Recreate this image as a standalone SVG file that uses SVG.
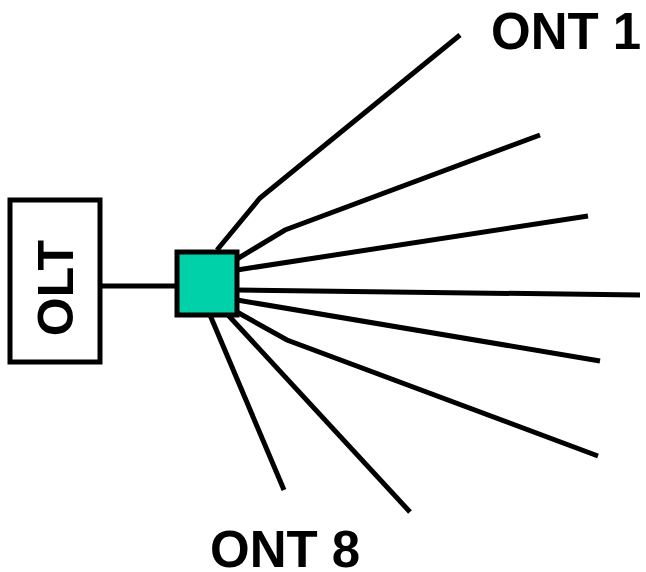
<svg xmlns="http://www.w3.org/2000/svg" width="646" height="572" viewBox="0 0 646 572">
<style>
.ln{fill:none;stroke:#000;stroke-width:5;stroke-linejoin:miter}
.t{font-family:"Liberation Sans",Arial,sans-serif;font-weight:bold;fill:#000}
</style>
<rect width="646" height="572" fill="#fff"/>
<g id="connectors">
<line class="ln" x1="102" y1="286" x2="177" y2="286"/>
<polyline class="ln" points="217,250 260,198 460,35"/>
<polyline class="ln" points="237,259 285,230 540,135"/>
<line class="ln" x1="237" y1="270" x2="588" y2="216"/>
<line class="ln" x1="237" y1="290" x2="640" y2="295"/>
<line class="ln" x1="237" y1="300" x2="600" y2="361"/>
<polyline class="ln" points="237,312 287,340 598,456"/>
<line class="ln" x1="228" y1="315" x2="410" y2="512"/>
<line class="ln" x1="210" y1="315" x2="284" y2="490"/>
</g>
<g id="olt">
<rect x="10" y="200" width="90" height="162" fill="#fff" stroke="#000" stroke-width="5"/>
<text class="t" font-size="50" text-anchor="middle" transform="translate(73,288) rotate(-90)">OLT</text>
</g>
<g id="splitter">
<rect x="177" y="252" width="60" height="63" fill="#00d1a8" stroke="#000" stroke-width="5"/>
</g>
<g id="ont1">
<text class="t" x="491" y="49" font-size="51">ONT 1</text>
</g>
<g id="ont8">
<text class="t" x="210" y="567" font-size="51">ONT 8</text>
</g>
</svg>
